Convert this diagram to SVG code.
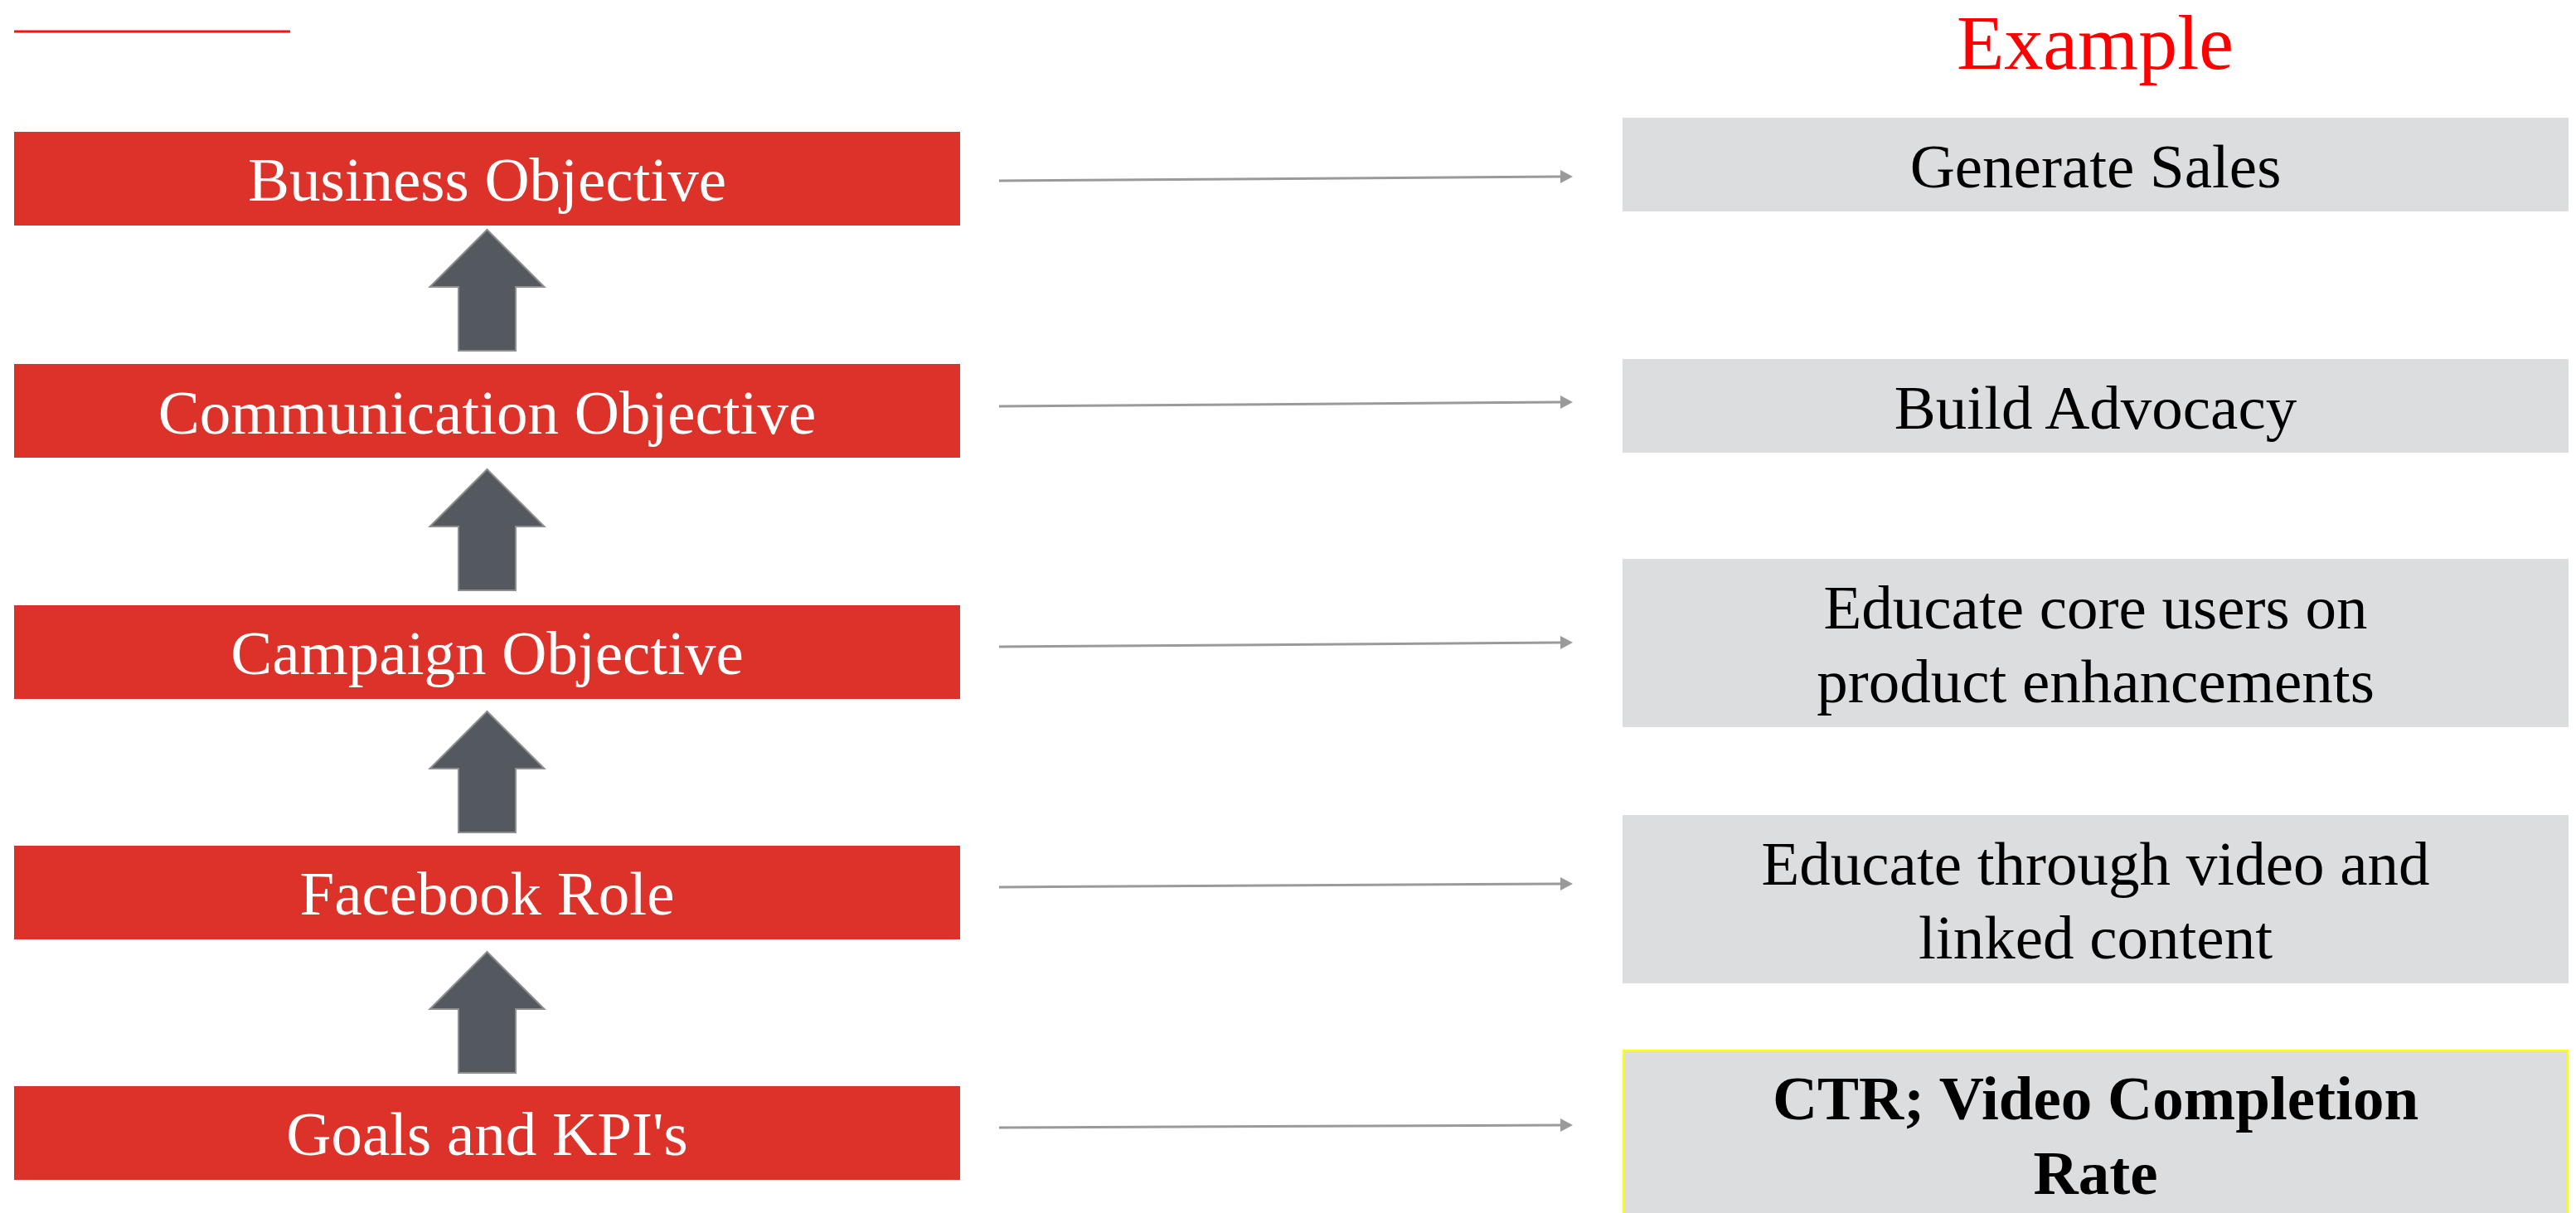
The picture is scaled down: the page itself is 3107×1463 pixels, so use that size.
<svg xmlns="http://www.w3.org/2000/svg" width="3107" height="1463" viewBox="0 0 3107 1463">
  <style>
    .lvl { fill: #DC3229; }
    .lvl-text { font-family: "Liberation Serif", "Times New Roman", serif; font-size: 75px; fill: #FFFFFF; text-anchor: middle; }
    .ex { fill: #DCDDDF; }
    .ex-text { font-family: "Liberation Serif", "Times New Roman", serif; font-size: 75px; fill: #000000; text-anchor: middle; }
    .bold { font-weight: bold; }
    .up { fill: #545960; stroke: #8E8E8E; stroke-width: 2; }
    .link { stroke: #9A9A9A; stroke-width: 3; fill: none; marker-end: url(#tip); }
    .title { font-family: "Liberation Serif", "Times New Roman", serif; font-size: 94px; fill: #FF0000; text-anchor: middle; }
  </style>
  <defs>
    <marker id="tip" markerUnits="userSpaceOnUse" markerWidth="16" markerHeight="18" viewBox="0 -9 16 18" refX="0" refY="0" orient="auto">
      <path d="M0,-8 L15,0 L0,8 Z" fill="#9A9A9A"/>
    </marker>
    <path id="uparrow" class="up" d="M0,0 L69,69 L34.5,69 L34.5,146 L-34.5,146 L-34.5,69 L-69,69 Z"/>
  </defs>

  <rect width="3107" height="1463" fill="#FFFFFF"/>

  <!-- header accent and column title -->
  <line x1="17" y1="38" x2="350" y2="38" stroke="#FF1010" stroke-width="3"/>
  <text class="title" x="2527" y="83">Example</text>

  <!-- left column: objective hierarchy -->
  <g id="business-objective">
    <rect class="lvl" x="17" y="159" width="1141" height="113"/>
    <text class="lvl-text" x="587.5" y="242">Business Objective</text>
  </g>
  <g id="communication-objective">
    <rect class="lvl" x="17" y="439" width="1141" height="113"/>
    <text class="lvl-text" x="587.5" y="523">Communication Objective</text>
  </g>
  <g id="campaign-objective">
    <rect class="lvl" x="17" y="730" width="1141" height="113"/>
    <text class="lvl-text" x="587.5" y="813">Campaign Objective</text>
  </g>
  <g id="facebook-role">
    <rect class="lvl" x="17" y="1020" width="1141" height="113"/>
    <text class="lvl-text" x="587.5" y="1103">Facebook Role</text>
  </g>
  <g id="goals-kpis">
    <rect class="lvl" x="17" y="1310" width="1141" height="113"/>
    <text class="lvl-text" x="587.5" y="1393">Goals and KPI's</text>
  </g>

  <!-- block arrows between levels -->
  <g id="up-arrows">
    <use href="#uparrow" x="587.5" y="277"/>
    <use href="#uparrow" x="587.5" y="566"/>
    <use href="#uparrow" x="587.5" y="858"/>
    <use href="#uparrow" x="587.5" y="1148"/>
  </g>

  <!-- right column: examples -->
  <g id="generate-sales">
    <rect class="ex" x="1957" y="142" width="1141" height="113"/>
    <text class="ex-text" x="2527.5" y="226">Generate Sales</text>
  </g>
  <g id="build-advocacy">
    <rect class="ex" x="1957" y="433" width="1141" height="113"/>
    <text class="ex-text" x="2527.5" y="517">Build Advocacy</text>
  </g>
  <g id="educate-core-users">
    <rect class="ex" x="1957" y="674" width="1141" height="203"/>
    <text class="ex-text" x="2527.5" y="758">Educate core users on</text>
    <text class="ex-text" x="2527.5" y="847">product enhancements</text>
  </g>
  <g id="educate-video">
    <rect class="ex" x="1957" y="983" width="1141" height="203"/>
    <text class="ex-text" x="2527.5" y="1067">Educate through video and</text>
    <text class="ex-text" x="2527.5" y="1156">linked content</text>
  </g>
  <g id="ctr-completion">
    <rect class="ex" x="1958" y="1267" width="1139" height="210" stroke="#FFFF00" stroke-width="2.5"/>
    <text class="ex-text bold" x="2527.5" y="1350">CTR; Video Completion</text>
    <text class="ex-text bold" x="2527.5" y="1440">Rate</text>
  </g>

  <!-- connectors from each level to its example -->
  <g id="connectors">
    <line class="link" x1="1205" y1="218" x2="1882" y2="213"/>
    <line class="link" x1="1205" y1="490" x2="1882" y2="485"/>
    <line class="link" x1="1205" y1="780" x2="1882" y2="775"/>
    <line class="link" x1="1205" y1="1070" x2="1882" y2="1066"/>
    <line class="link" x1="1205" y1="1360" x2="1882" y2="1357"/>
  </g>
</svg>
